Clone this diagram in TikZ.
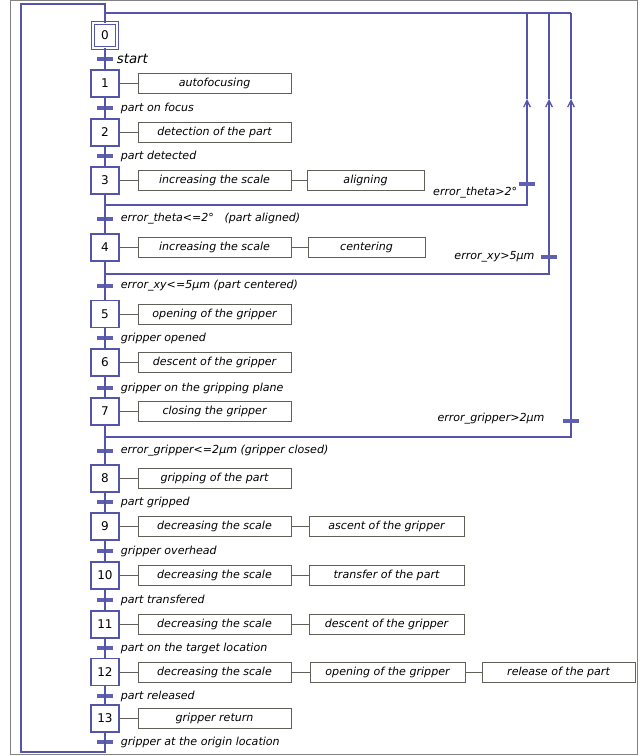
\documentclass[tikz,border=0pt]{standalone}
\usepackage{fontspec}
\setmainfont{DejaVu Sans}
\usepackage{tikz}
\usetikzlibrary{positioning, arrows.meta}
\definecolor{grafblue}{RGB}{84,84,170}
\definecolor{barblue}{RGB}{96,96,178}
\definecolor{boxgray}{RGB}{96,96,88}
\definecolor{framegray}{RGB}{130,130,130}
\tikzset{
    stepnode/.style = {draw=grafblue, rectangle, fill=white, line width=0.8pt, minimum width=21pt, 
      minimum height=20.25pt, inner sep=0em, font=\fontsize{9}{10}\selectfont},
    initnode/.style = {stepnode, double=white, double distance=1.5pt, minimum width=18.5pt, minimum height=18.5pt},
    actionnode/.style = {draw=boxgray, rectangle, line width=0.75pt, minimum width=114.75pt, 
      minimum height=15pt, inner sep=0em, font=\fontsize{8.3}{10}\selectfont\itshape},
    widenode/.style = {actionnode, minimum width=116.25pt},
    shortnode/.style = {actionnode, minimum width=87.75pt},
    transnode/.style = {fill=barblue, rectangle, minimum width=12pt, minimum height=2.6pt, inner sep=0em},
    textnode/.style = {draw=none, fill=none, rectangle, inner sep=0em, font=\fontsize{8.3}{10}\selectfont\itshape},
    condtext/.style = {textnode, xshift=5.5pt},
    flow/.style = {draw=grafblue, line width=0.8pt},
    actlink/.style = {draw=boxgray, line width=0.75pt},
    backarrow/.style = {flow, -{Straight Barb[length=5pt, width=5pt, line width=1pt]}}
}

\begin{document}
\begin{tikzpicture}[x=0.75pt, y=-0.75pt]
    \useasboundingbox (0,0) rectangle (643,756);
    \draw [framegray, line width=0.8pt] (10.5,0.5) rectangle (637.5,754.5);

    % steps
    \node [name = S0, initnode] at (105,35.5) {0};
    \node [name = S1, stepnode] at (105,83.5) {1};
    \node [name = S2, stepnode] at (105,132.5) {2};
    \node [name = S3, stepnode] at (105,180.5) {3};
    \node [name = S4, stepnode] at (105,247.5) {4};
    \node [name = S5, stepnode] at (105,314) {5};
    \node [name = S6, stepnode] at (105,362.5) {6};
    \node [name = S7, stepnode] at (105,411.5) {7};
    \node [name = S8, stepnode] at (105,478.5) {8};
    \node [name = S9, stepnode] at (105,526.5) {9};
    \node [name = S10, stepnode] at (105,575.5) {10};
    \node [name = S11, stepnode] at (105,624.5) {11};
    \node [name = S12, stepnode] at (105,672) {12};
    \node [name = S13, stepnode] at (105,718.5) {13};

    % actions
    \node [name = A1, actionnode, right = 13.5pt of S1] {autofocusing};
    \node [name = A2, actionnode, right = 13.5pt of S2] {detection of the part};
    \node [name = A3, actionnode, right = 13.5pt of S3] {increasing the scale};
    \node [name = A3b, shortnode, right = 11.25pt of A3] {aligning};
    \node [name = A4, actionnode, right = 13.5pt of S4] {increasing the scale};
    \node [name = A4b, shortnode, right = 12pt of A4] {centering};
    \node [name = A5, actionnode, right = 13.5pt of S5] {opening of the gripper};
    \node [name = A6, actionnode, right = 13.5pt of S6] {descent of the gripper};
    \node [name = A7, actionnode, right = 13.5pt of S7] {closing the gripper};
    \node [name = A8, actionnode, right = 13.5pt of S8] {gripping of the part};
    \node [name = A9, actionnode, right = 13.5pt of S9] {decreasing the scale};
    \node [name = A9b, widenode, right = 12.75pt of A9] {ascent of the gripper};
    \node [name = A10, actionnode, right = 13.5pt of S10] {decreasing the scale};
    \node [name = A10b, widenode, right = 12.75pt of A10] {transfer of the part};
    \node [name = A11, actionnode, right = 13.5pt of S11] {decreasing the scale};
    \node [name = A11b, widenode, right = 12.75pt of A11] {descent of the gripper};
    \node [name = A12, actionnode, right = 13.5pt of S12] {decreasing the scale};
    \node [name = A12b, widenode, right = 13.5pt of A12] {opening of the gripper};
    \node [name = A12c, actionnode, right = 12pt of A12b] {release of the part};
    \node [name = A13, actionnode, right = 13.5pt of S13] {gripper return};

    % transitions
    \node [name = T0, transnode, 
        label={[textnode, xshift=2.5pt, font=\fontsize{10}{12}\selectfont\itshape]right:start}] at (105,59) {};
    \node [name = T1, transnode, label={[condtext]right:part on focus}] at (105,108) {};
    \node [name = T2, transnode, label={[condtext]right:part detected}] at (105,156) {};
    \node [name = T3, transnode, label={[condtext]right:error\_theta<=2°\ \ \ (part aligned)}] at (105,219) {};
    \node [name = T4, transnode, label={[condtext]right:error\_xy<=5µm (part centered)}] at (105,286) {};
    \node [name = T5, transnode, label={[condtext]right:gripper opened}] at (105,338) {};
    \node [name = T6, transnode, label={[condtext]right:gripper on the gripping plane}] at (105,388) {};
    \node [name = T7, transnode, label={[condtext]right:error\_gripper<=2µm (gripper closed)}] at (105,451) {};
    \node [name = T8, transnode, label={[condtext]right:part gripped}] at (105,502) {};
    \node [name = T9, transnode, label={[condtext]right:gripper overhead}] at (105,551) {};
    \node [name = T10, transnode, label={[condtext]right:part transfered}] at (105,600) {};
    \node [name = T11, transnode, label={[condtext]right:part on the target location}] at (105,648) {};
    \node [name = T12, transnode, label={[condtext]right:part released}] at (105,696) {};
    \node [name = T13, transnode, label={[condtext]right:gripper at the origin location}] at (105,742) {};

    \node [name = E3, transnode, 
        label={[textnode, xshift=-1pt, yshift=-6.75pt]left:error\_theta>2°}] at (527,184) {};
    \node [name = E4, transnode, 
        label={[textnode, xshift=-4.5pt]left:error\_xy>5µm}] at (549,257) {};
    \node [name = E7, transnode, 
        label={[textnode, xshift=-13.5pt, yshift=2pt]left:error\_gripper>2µm}] at (571,421) {};

    \coordinate (Top) at (105,4);
    \coordinate (TopL) at (21,4);
    \coordinate (BotL) at (21,752);
    \coordinate (Bot) at (105,752);
    \coordinate (J) at (105,13);
    \coordinate (B3) at (105,205);
    \coordinate (B4) at (105,274);
    \coordinate (B7) at (105,437);
    \coordinate (U3) at (527,99);
    \coordinate (U4) at (549,99);
    \coordinate (U7) at (571,99);
    \coordinate (R3) at (527,13);
    \coordinate (R4) at (549,13);
    \coordinate (R7) at (571,13);

    % main sequence and loop back
    \draw [flow] (S0) -- (S1) -- (S2) -- (S3) -- (S4) -- (S5) -- (S6) -- (S7) 
        -- (S8) -- (S9) -- (S10) -- (S11) -- (S12) -- (S13);
    \draw [flow] (S13) -- (Bot) -- (BotL) -- (TopL) -- (Top) -- (S0);
    \draw [flow] (J) -- (R7);

    % error returns
    \draw [flow] (B3) -| (E3);
    \draw [backarrow] (E3) -- (U3);
    \draw [flow] (U3) -- (R3);
    \draw [flow] (B4) -| (E4);
    \draw [backarrow] (E4) -- (U4);
    \draw [flow] (U4) -- (R4);
    \draw [flow] (B7) -| (E7);
    \draw [backarrow] (E7) -- (U7);
    \draw [flow] (U7) -- (R7);

    % action links
    \draw [actlink] (S1) -- (A1);
    \draw [actlink] (S2) -- (A2);
    \draw [actlink] (S3) -- (A3) -- (A3b);
    \draw [actlink] (S4) -- (A4) -- (A4b);
    \draw [actlink] (S5) -- (A5);
    \draw [actlink] (S6) -- (A6);
    \draw [actlink] (S7) -- (A7);
    \draw [actlink] (S8) -- (A8);
    \draw [actlink] (S9) -- (A9) -- (A9b);
    \draw [actlink] (S10) -- (A10) -- (A10b);
    \draw [actlink] (S11) -- (A11) -- (A11b);
    \draw [actlink] (S12) -- (A12) -- (A12b) -- (A12c);
    \draw [actlink] (S13) -- (A13);
\end{tikzpicture}
\end{document}
